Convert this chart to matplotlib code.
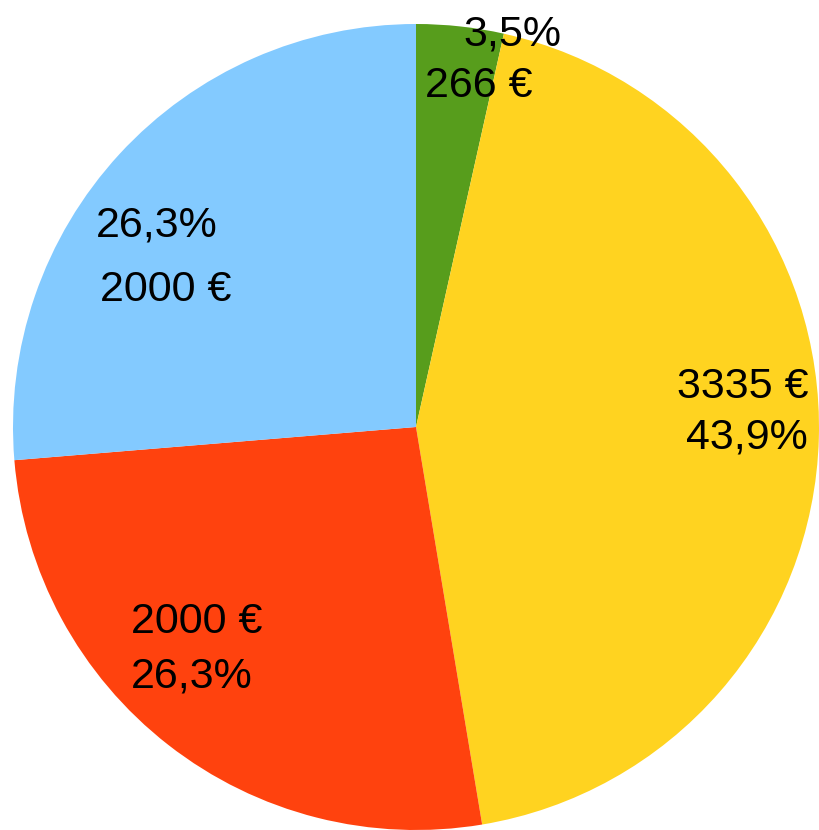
import matplotlib
matplotlib.use("Agg")
import matplotlib.pyplot as plt

# slice data (clockwise from 12 o'clock)
amounts = [266, 3335, 2000, 2000]
percents = ["3,5%", "43,9%", "26,3%", "26,3%"]
euros = ["266 €", "3335 €", "2000 €", "2000 €"]
colors = ["#579D1C", "#FFD320", "#FF420E", "#83CAFF"]
pct_first = [True, False, False, True]

# label anchors, in units of the pie radius
label_pos = [
    [(0.238, 0.975), (0.156, 0.846)],
    [(0.811, 0.099), (0.821, -0.025)],
    [(-0.543, -0.484), (-0.556, -0.620)],
    [(-0.643, 0.501), (-0.620, 0.340)],
]

plt.rcParams["font.family"] = ["Liberation Sans", "DejaVu Sans"]

W, H = 819, 830
cx, cy, R = 416, 427, 403

fig = plt.figure(figsize=(W / 100, H / 100), dpi=100)
ax = fig.add_axes([0, 0, 1, 1])
ax.pie(amounts, colors=colors, startangle=90, counterclock=False,
       radius=1.0, center=(0, 0), wedgeprops=dict(linewidth=0))

for i in range(len(amounts)):
    first, second = (percents[i], euros[i]) if pct_first[i] else (euros[i], percents[i])
    for txt, (x, y) in zip([first, second], label_pos[i]):
        ax.text(x, y, txt, fontsize=31, ha="center", va="center", color="black")

ax.set_xlim(-cx / R, (W - cx) / R)
ax.set_ylim(-(H - cy) / R, cy / R)
ax.set_aspect("auto")
ax.axis("off")

fig.savefig("out.png", dpi=100)
